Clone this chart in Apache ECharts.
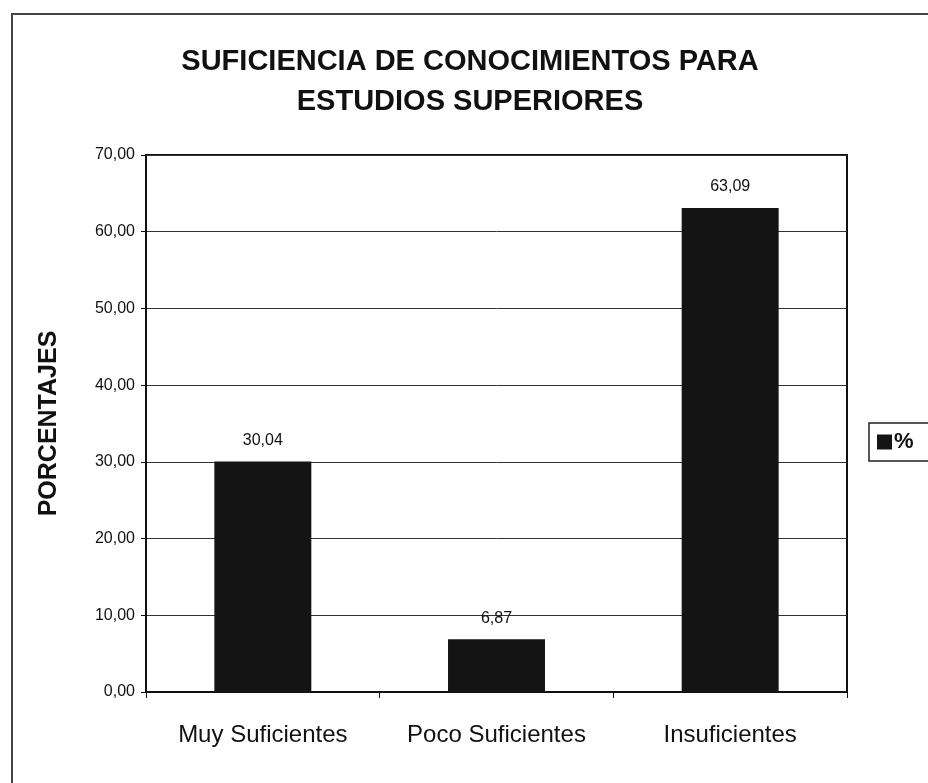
<!DOCTYPE html>
<html>
<head>
<meta charset="utf-8">
<script src="https://cdn.jsdelivr.net/npm/echarts@6/dist/echarts.min.js"></script>
<style>
  html, body { margin: 0; padding: 0; background: #fff; }
  #frame { position: absolute; left: 11px; top: 13px; width: 940px; height: 800px;
           border-top: 2px solid #444; border-left: 2px solid #444; }
  #chart { position: absolute; left: 0; top: 0; width: 928px; height: 783px; }
</style>
</head>
<body>
<div id="frame"></div>
<div id="chart"></div>
<script>
const categories = ['Muy Suficientes', 'Poco Suficientes', 'Insuficientes']
const percentages = [30.04, 6.87, 63.09]
const seriesName = '%'

const comma = v => v.toFixed(2).replace('.', ',')

const chart = echarts.init(document.getElementById('chart'))

const option = {
  animation: false,
  textStyle: { fontFamily: 'Liberation Sans, Arial, sans-serif' },
  title: {
    text: 'SUFICIENCIA DE CONOCIMIENTOS PARA\nESTUDIOS SUPERIORES',
    left: 465,
    top: 37,
    textAlign: 'center',
    textStyle: { fontSize: 29, fontWeight: 'bold', color: '#111', lineHeight: 40 }
  },
  legend: {
    data: [seriesName],
    left: 869,
    top: 423,
    orient: 'vertical',
    icon: 'rect',
    itemWidth: 15,
    itemHeight: 15,
    itemGap: 0,
    padding: [8, 20, 8, 8],
    borderColor: '#222',
    borderWidth: 1.5,
    textStyle: { fontSize: 22, fontWeight: 'bold', color: '#111', padding: [0, 0, 0, -3] }
  },
  grid: {
    left: 146,
    right: 81,
    top: 155,
    bottom: 91,
    show: true,
    borderColor: '#111',
    borderWidth: 2
  },
  xAxis: {
    type: 'category',
    data: categories,
    axisLine: { lineStyle: { color: '#111', width: 2 } },
    axisTick: { show: true, length: 6, lineStyle: { color: '#111' } },
    axisLabel: { fontSize: 24, color: '#111', margin: 31 }
  },
  yAxis: {
    type: 'value',
    min: 0,
    max: 70,
    interval: 10,
    name: 'PORCENTAJES',
    nameLocation: 'middle',
    nameGap: 84,
    nameTextStyle: { fontSize: 25, fontWeight: 'bold', color: '#111' },
    axisLine: { show: true, lineStyle: { color: '#111', width: 2 } },
    axisTick: { show: true, length: 5, lineStyle: { color: '#111' } },
    axisLabel: { fontSize: 16, color: '#111', margin: 11, formatter: v => comma(v) },
    splitLine: { lineStyle: { color: '#333', width: 1 } }
  },
  series: [
    {
      name: seriesName,
      type: 'bar',
      data: percentages,
      barWidth: '41.5%',
      itemStyle: { color: '#141414' },
      label: {
        show: true,
        position: 'top',
        distance: 13,
        fontSize: 16,
        color: '#111',
        formatter: p => comma(p.value)
      }
    }
  ]
}

chart.setOption(option)
</script>
</body>
</html>
